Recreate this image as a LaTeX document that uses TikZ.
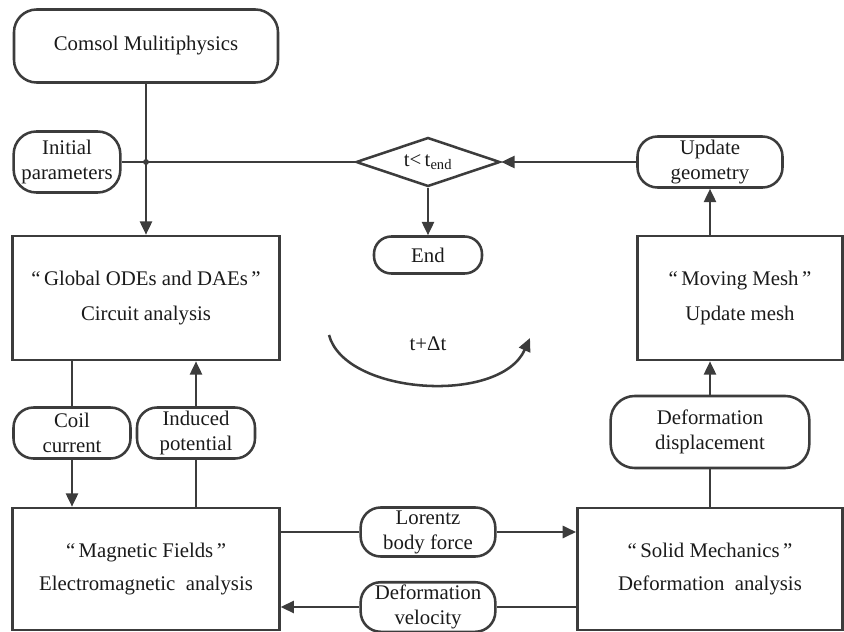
\documentclass[tikz,border=0pt]{standalone}
\usepackage{fontspec}
\setmainfont{Liberation Serif}
\usetikzlibrary{arrows.meta,positioning,shapes.geometric}
\definecolor{linegray}{HTML}{3C3C3C}
\definecolor{textgray}{HTML}{1A1A1A}
\tikzset{
	box/.style={draw,rectangle,align=center,inner sep=2pt},
	pill/.style={box,rounded corners=15pt,minimum height=38.25pt},
	test/.style={draw,diamond,aspect=2.94,inner sep=0pt,minimum width=108pt,minimum height=36.75pt},
	arr/.style={-{Triangle[length=10pt,width=9pt]}}
}
\begin{document}
\begin{tikzpicture}[x=0.75pt,y=-0.75pt,color=linegray,text=textgray,line width=1.9pt,font=\fontsize{15.6}{18.8}\selectfont]
			\useasboundingbox (0,0) rectangle (844,632);
			\node[box,rounded corners=17pt,minimum width=198pt,minimum height=54.75pt] (comsol) at (146,46) {Comsol Mulitiphysics};
			\node[pill,minimum width=80pt,minimum height=45.75pt,rounded corners=17pt] (init) at (67,162) {Initial\\parameters};
			\node[test] (check) at (428,162) {t<\,t\textsubscript{end}};
			\node[pill,minimum width=81pt,minimum height=27.75pt,rounded corners=13pt] (stop) at (428,255) {End};
			\node[pill,minimum width=108.75pt] (upd) at (710,162) {Update\\geometry};
			\node[box,minimum width=200pt,minimum height=93pt] (global) at (146,298) {“\,Global ODEs and DAEs\,”\\[7pt]Circuit analysis};
			\node[box,minimum width=153.75pt,minimum height=93pt] (mesh) at (740,298) {“\,Moving Mesh\,”\\[7pt]Update mesh};
			\node[pill,minimum width=87.75pt] (coil) at (72,433) {Coil\\current};
			\node[pill,minimum width=88.5pt] (induced) at (196,433) {Induced\\potential};
			\node[pill,minimum width=149pt,minimum height=54pt,rounded corners=18pt] (displ) at (710,432) {Deformation\\displacement};
			\node[box,minimum width=200pt,minimum height=91.5pt] (magnetic) at (146,569) {“\,Magnetic Fields\,”\\[6pt]Electromagnetic\ \ analysis};
			\node[box,minimum width=199pt,minimum height=91.5pt] (solid) at (710,569) {“\,Solid Mechanics\,”\\[6pt]Deformation\ \ analysis};
			\node[pill,minimum width=101pt,minimum height=36.75pt] (lorentz) at (428,532) {Lorentz\\body force};
			\node[pill,minimum width=101pt,minimum height=36.75pt] (velocity) at (428,607) {Deformation\\velocity};
			\node (tstep) at (428,344) {t+Δt};
			\coordinate (junc) at (comsol.south |- init.east);
			\coordinate (arcstart) at (329,335);
			\coordinate (arcend) at (530,338);
			\draw[arr] (comsol) -- (global);
			\draw (init) -- (check);
			\fill (junc) circle (2.2pt);
			\draw[arr] (upd) -- (check);
			\draw[arr] (check) -- (stop);
			\draw[arr] (upd |- mesh.north) -- (upd);
			\draw (coil |- global.south) -- (coil);
			\draw[arr] (coil) -- (coil |- magnetic.north);
			\draw (induced |- magnetic.north) -- (induced);
			\draw[arr] (induced) -- (induced |- global.south);
			\draw (displ |- solid.north) -- (displ);
			\draw[arr] (displ) -- (displ |- mesh.south);
			\draw (magnetic.east |- lorentz) -- (lorentz);
			\draw[arr] (lorentz) -- (solid.west |- lorentz);
			\draw (solid.west |- velocity) -- (velocity);
			\draw[arr] (velocity) -- (magnetic.east |- velocity);
			\draw[arr] (arcstart) .. controls (345,395) and (500,405) .. (arcend);
		\end{tikzpicture}
\end{document}
